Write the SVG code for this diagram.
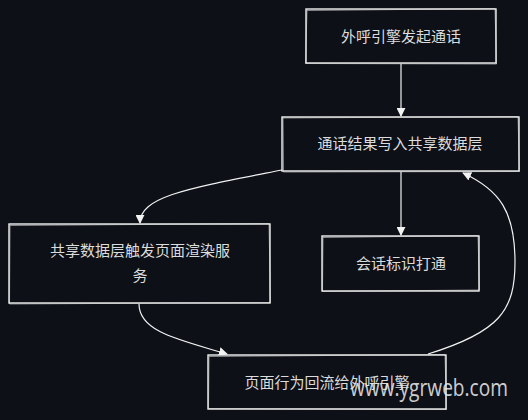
<svg xmlns="http://www.w3.org/2000/svg" width="528" height="420" viewBox="0 0 528 420">
<defs>
<style>
.box{fill:#0d1017;stroke:#f2f2f2;stroke-width:1.4}
.sk{fill:none;stroke:#e8e8e8;stroke-width:0.8;opacity:0.7}
.lbl{font-family:"Noto Sans CJK SC","Noto Sans",sans-serif;font-size:15px;fill:#dcdcdc;text-anchor:middle}
.edge{fill:none;stroke:#f2f2f2;stroke-width:1.2}
</style>
<marker id="arr" viewBox="0 0 10 10" refX="9" refY="5" markerWidth="9" markerHeight="9" markerUnits="userSpaceOnUse" orient="auto">
<path d="M0,0 L10,5 L0,10 Z" fill="#f2f2f2"/>
</marker>
</defs>
<rect width="528" height="420" fill="#0d1017"/>
<g id="connectors">
<path class="edge" d="M401,64 L401,116" marker-end="url(#arr)"/>
<path class="edge" d="M282,170 C190,188 140,196 140,223" marker-end="url(#arr)"/>
<path class="edge" d="M401,172 L401,235" marker-end="url(#arr)"/>
<path class="edge" d="M139,304 C139,332 180,340 227,354" marker-end="url(#arr)"/>
<path class="edge" d="M428,354 C500,332 515,310 515,262 C515,212 500,190 463,173" marker-end="url(#arr)"/>
</g>
<g id="n1">
<rect class="box" x="306" y="9" width="190" height="54"/>
<path class="sk" d="M307,10.5 L495,8.5 L496.5,64 L305.5,63.5 Z"/>
<text class="lbl" x="401" y="42">外呼引擎发起通话</text>
</g>
<g id="n2">
<rect class="box" x="282" y="117" width="237" height="54"/>
<path class="sk" d="M283,118 L518,116.5 L519.5,171.5 L283.5,172 Z"/>
<text class="lbl" x="400" y="149">通话结果写入共享数据层</text>
</g>
<g id="n3">
<rect class="box" x="9" y="224" width="261" height="79"/>
<path class="sk" d="M10,225.5 L269,223.5 L270.5,302.5 L9.5,304 Z"/>
<text class="lbl" x="140" y="256">共享数据层触发页面渲染服</text>
<text class="lbl" x="140" y="281">务</text>
</g>
<g id="n4">
<rect class="box" x="322" y="236" width="157" height="55"/>
<path class="sk" d="M323,237.5 L478,235.5 L479.5,290 L322.5,291.5 Z"/>
<text class="lbl" x="401" y="269">会话标识打通</text>
</g>
<g id="n5">
<rect class="box" x="208" y="355" width="238" height="54"/>
<path class="sk" d="M209,356.5 L445,354.5 L446.5,409.5 L208.5,408.5 Z"/>
<text class="lbl" x="327" y="388">页面行为回流给外呼引擎</text>
</g>
<text x="350" y="396" font-family="'Open Sans','Noto Sans',sans-serif" font-size="24" fill="#e6e6e6" fill-opacity="0.9" textLength="158" lengthAdjust="spacingAndGlyphs">www.ygrweb.com</text>
</svg>
